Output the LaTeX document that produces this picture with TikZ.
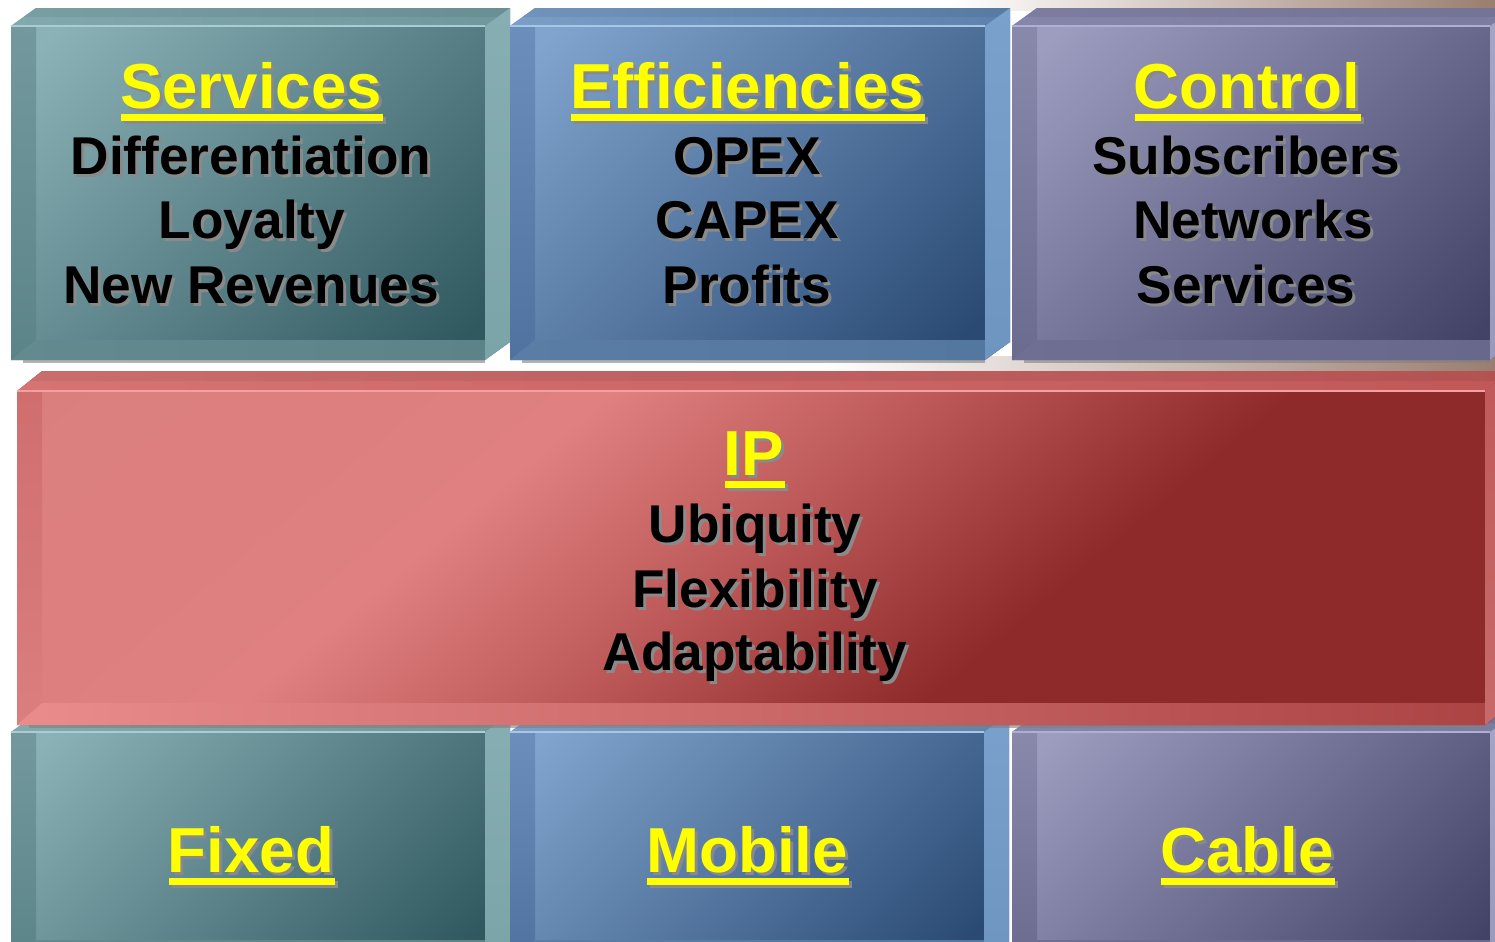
\documentclass[tikz,border=0pt]{standalone}
\usepackage{fontspec}
\setmainfont{Liberation Sans}
\usetikzlibrary{calc}

\definecolor{hyellow}{HTML}{FFFF00}
\definecolor{shgray}{HTML}{8A8A8A}
\definecolor{bgmid}{HTML}{EDE3DD}
\definecolor{bgdark}{HTML}{9A7E70}

% teal
\definecolor{tealL}{HTML}{8BB2B7}\definecolor{tealD}{HTML}{30585F}
\definecolor{tealT1}{HTML}{82A9AE}\definecolor{tealT2}{HTML}{6F989D}
\definecolor{tealL1}{HTML}{73999E}\definecolor{tealL2}{HTML}{5B8489}
\definecolor{tealB1}{HTML}{628A8F}\definecolor{tealB2}{HTML}{5B8388}
\definecolor{tealR1}{HTML}{86AEB3}\definecolor{tealR2}{HTML}{7BA4A9}
\definecolor{tealHL}{HTML}{A9CDD2}
% blue
\definecolor{blueL}{HTML}{80A4CD}\definecolor{blueD}{HTML}{2A4A74}
\definecolor{blueT1}{HTML}{7A9EC6}\definecolor{blueT2}{HTML}{5C82AD}
\definecolor{blueL1}{HTML}{6B8FBA}\definecolor{blueL2}{HTML}{4F739E}
\definecolor{blueB1}{HTML}{597DA5}\definecolor{blueB2}{HTML}{53779F}
\definecolor{blueR1}{HTML}{7AA1CB}\definecolor{blueR2}{HTML}{6E95C0}
\definecolor{blueHL}{HTML}{A8C6E6}
% purple
\definecolor{purpL}{HTML}{9C9DBF}\definecolor{purpD}{HTML}{424367}
\definecolor{purpT1}{HTML}{8586A9}\definecolor{purpT2}{HTML}{7A7B9F}
\definecolor{purpL1}{HTML}{8889AB}\definecolor{purpL2}{HTML}{6A6B8E}
\definecolor{purpB1}{HTML}{6E6F93}\definecolor{purpB2}{HTML}{67688C}
\definecolor{purpR1}{HTML}{A4A5C7}\definecolor{purpR2}{HTML}{9899BB}
\definecolor{purpHL}{HTML}{AEAFD2}
% red
\definecolor{redL}{HTML}{E08080}\definecolor{redD}{HTML}{8F2A2B}
\definecolor{redM}{HTML}{BC5858}
\definecolor{redL2}{HTML}{DA7E7E}
\definecolor{redT1}{HTML}{D67474}\definecolor{redT2}{HTML}{C05858}
\definecolor{redL1}{HTML}{D06E6E}\definecolor{redL2b}{HTML}{D87878}
\definecolor{redB1}{HTML}{EA8C8C}\definecolor{redB2}{HTML}{AC4444}
\definecolor{redR1}{HTML}{C05A5A}\definecolor{redR2}{HTML}{C86A6A}
\definecolor{redHL}{HTML}{F5A0A0}

\pgfdeclareverticalshading{tealface}{100bp}{color(0bp)=(tealD); color(20bp)=(tealD); color(80bp)=(tealL); color(100bp)=(tealL)}
\pgfdeclareverticalshading{blueface}{100bp}{color(0bp)=(blueD); color(20bp)=(blueD); color(80bp)=(blueL); color(100bp)=(blueL)}
\pgfdeclareverticalshading{purpface}{100bp}{color(0bp)=(purpD); color(20bp)=(purpD); color(80bp)=(purpL); color(100bp)=(purpL)}
\pgfdeclareverticalshading{redface}{100bp}{color(0bp)=(redD); color(42.4bp)=(redD); color(50bp)=(redM); color(57.1bp)=(redL); color(72bp)=(redL2); color(100bp)=(redL2)}

% #1 x0, #2 y0, #3 x1, #4 y1, #5 palette, #6 top depth, #7 bottom band
\newcommand{\bevface}[7]{%
  \shade[shading=#5face, shading angle=45] (#1,{#2+#6}) -- ({#1+25},#2) -- (#3,#2) -- (#3,{#4-#6}) -- ({#3-25},#4) -- (#1,#4) -- cycle;
}
\newcommand{\bevbands}[7]{%
  \shade[left color=#5T1, right color=#5T2] (#1,{#2+#6}) -- ({#1+25},#2) -- (#3,#2) -- ({#3-25},{#2+#6}) -- cycle;
  \fill[black, opacity=0.06] ({#1+12},{#2+#6/2}) -- ({#1+25},#2) -- (#3,#2) -- ({#3-12},{#2+#6/2}) -- cycle;
  \shade[top color=#5L1, bottom color=#5L2] (#1,{#2+#6}) -- ({#1+25},{#2+#6}) -- ({#1+25},{#4-#7}) -- (#1,#4) -- cycle;
  \shade[left color=#5B1, right color=#5B2] (#1,#4) -- ({#1+25},{#4-#7}) -- ({#3-25},{#4-#7}) -- ({#3-25},#4) -- cycle;
  \shade[top color=#5R1, bottom color=#5R2] ({#3-25},{#2+#6}) -- (#3,#2) -- (#3,{#4-#6}) -- ({#3-25},#4) -- cycle;
  \draw[#5HL, line width=1pt] (#1,{#2+#6}) -- ({#3-25},{#2+#6});
  \fill[black!50, opacity=0.6] ({#1+12},#4) rectangle ({#3-25},{#4+2.5});
}
\newcommand{\bevbox}[7]{\bevface{#1}{#2}{#3}{#4}{#5}{#6}{#7}\bevbands{#1}{#2}{#3}{#4}{#5}{#6}{#7}}

% text lines: name, x, baseline y, style, text
\newcommand{\txtline}[5]{%
  \node[txt,#4,shad] (#1-sh) at ({#2+3},{#3+3}) {#5};
  \node[txt,#4] (#1) at (#2,#3) {#5};
}
\newcommand{\hdline}[4]{%
  \txtline{#1}{#2}{#3}{head}{#4}
  \fill[shgray] ([shift={(4,9)}]#1.base west) rectangle ([shift={(4,16)}]#1.base east);
  \fill[hyellow] ([shift={(1,6)}]#1.base west) rectangle ([shift={(1,13)}]#1.base east);
}

\begin{document}
\begin{tikzpicture}[x=0.5pt,y=-0.5pt,
  txt/.style={anchor=base, inner sep=0pt, outer sep=0pt},
  head/.style={font=\fontsize{31.8}{38}\selectfont\bfseries, text=hyellow},
  body/.style={font=\fontsize{26.6}{32}\selectfont\bfseries, text=black},
  shad/.style={text=shgray}]

\useasboundingbox (0,0) rectangle (1495,942);
\clip (0,0) rectangle (1495,942);
\fill[white] (0,0) rectangle (1495,942);
\shade[left color=white, middle color=bgmid, right color=bgdark] (950,0) rectangle (1495,10);
\shade[left color=white, middle color=bgmid, right color=bgdark] (820,356) rectangle (1495,374);

% top row
\bevbox{11}{8}{510}{360}{teal}{18}{20}
\bevbox{510}{8}{1010}{360}{blue}{18}{20}
\bevbox{1012}{8}{1515}{360}{purp}{18}{20}

% bottom row
\bevbox{11}{714}{510}{960}{teal}{18}{20}
\bevbox{510}{714}{1009}{960}{blue}{18}{20}
\bevbox{1012}{714}{1515}{960}{purp}{18}{20}

% red middle box
\bevface{17}{371}{1510}{725}{red}{20}{22}
\begin{scope}
  \clip (17,391) -- (42,371) -- (1510,371) -- (1510,705) -- (1485,725) -- (17,725) -- cycle;
  \shade[shading=redface, shading angle=40] (6,-202) rectangle (1506,1298);
\end{scope}
\bevbands{17}{371}{1510}{725}{red}{20}{22}

% texts: services
\hdline{svc}{251}{108}{Services}
\txtline{svc1}{251}{174}{body}{Differentiation}
\txtline{svc2}{252}{238}{body}{Loyalty}
\txtline{svc3}{251}{303}{body}{New Revenues}

% efficiencies
\hdline{eff}{747}{108}{Efficiencies}
\txtline{eff1}{747}{174}{body}{OPEX}
\txtline{eff2}{747}{238}{body}{CAPEX}
\txtline{eff3}{747}{303}{body}{Profits}

% control
\hdline{ctl}{1247}{108}{Control}
\txtline{ctl1}{1246}{174}{body}{Subscribers}
\txtline{ctl2}{1253}{238}{body}{Networks}
\txtline{ctl3}{1246}{303}{body}{Services}

% IP
\hdline{ip}{754}{475}{IP}
\txtline{ip1}{755}{542}{body}{Ubiquity}
\txtline{ip2}{755}{607}{body}{Flexibility}
\txtline{ip3}{755}{670}{body}{Adaptability}

% bottom
\hdline{fix}{251}{872}{Fixed}
\hdline{mob}{747}{872}{Mobile}
\hdline{cab}{1247}{872}{Cable}

\end{tikzpicture}
\end{document}
